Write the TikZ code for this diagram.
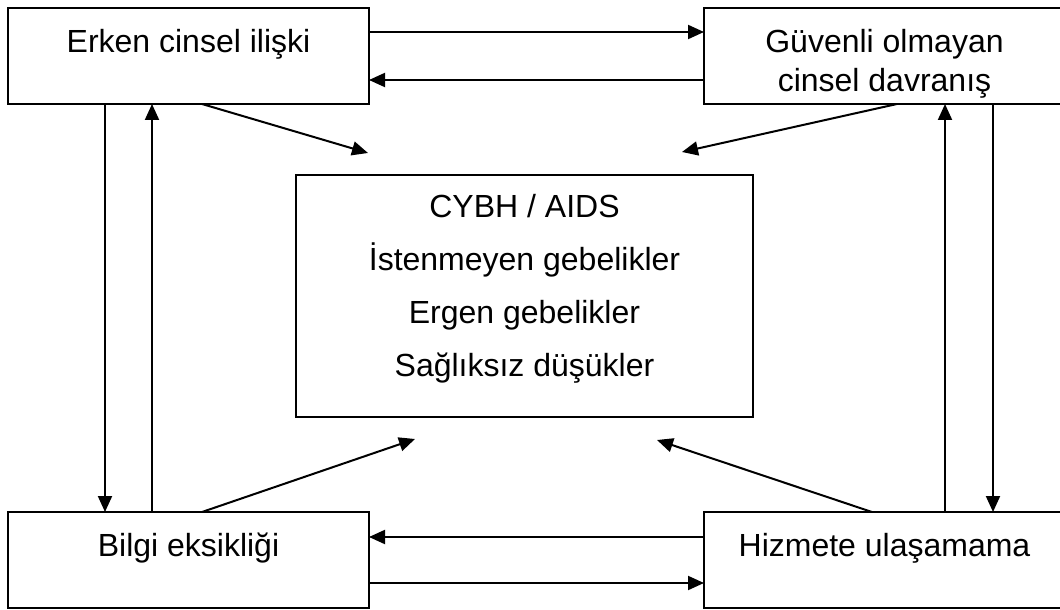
\documentclass[tikz,border=0pt]{standalone}
\usepackage{fontspec}
\setmainfont{Liberation Sans}
\usetikzlibrary{arrows.meta}

\tikzset{
  kutu/.style  = {draw, rectangle, line width=1pt, inner sep=0pt, outer sep=0pt,
                  minimum width=180.5pt, minimum height=48pt},
  yazi/.style  = {anchor=north, inner sep=0pt, align=center, yshift=-10.5pt,
                  font=\fontsize{16}{19.5}\selectfont},
  ok/.style    = {-{Triangle[length=8pt,width=7pt]}, line width=1pt}
}

\begin{document}
\begin{tikzpicture}[x=0.5pt,y=-0.5pt]
\useasboundingbox (0,0) rectangle (1060,610);

% part boxes
\node[kutu, label={[yazi]north:Erken cinsel ilişki}] (erken) at (188.5,56) {};
\node[kutu, label={[yazi]north:Güvenli olmayan\\cinsel davranış}] (guven) at (884.5,56) {};
\node[kutu, label={[yazi]north:Bilgi eksikliği}] (bilgi) at (188.5,560) {};
\node[kutu, label={[yazi]north:Hizmete ulaşamama}] (hizmet) at (884.5,560) {};

% part center
\node[kutu, minimum width=228.5pt, minimum height=121pt,
      label={[yazi, yshift=1pt, font=\fontsize{16}{26.5}\selectfont]north:CYBH / AIDS\\İstenmeyen gebelikler\\Ergen gebelikler\\Sağlıksız düşükler}]
      (sonuc) at (524.5,296) {};

\coordinate (ust1) at (368,153);
\coordinate (ust2) at (682,152);
\coordinate (alt1) at (415,439);
\coordinate (alt2) at (657,440);

% part top
\draw[ok] ([yshift=12pt]erken.east) -- ([yshift=12pt]guven.west);
\draw[ok] ([yshift=-12pt]guven.west) -- ([yshift=-12pt]erken.east);
\draw[ok] ([xshift=6.75pt]erken.south) -- (ust1);
\draw[ok] ([xshift=6.25pt]guven.south) -- (ust2);

% part sides
\draw[ok] ([xshift=-41.75pt]erken.south) -- ([xshift=-41.75pt]bilgi.north);
\draw[ok] ([xshift=-18.25pt]bilgi.north) -- ([xshift=-18.25pt]erken.south);
\draw[ok] ([xshift=30.25pt]hizmet.north) -- ([xshift=30.25pt]guven.south);
\draw[ok] ([xshift=54.25pt]guven.south) -- ([xshift=54.25pt]hizmet.north);

% part bottom
\draw[ok] ([xshift=6.75pt]bilgi.north) -- (alt1);
\draw[ok] ([xshift=-6.25pt]hizmet.north) -- (alt2);
\draw[ok] ([yshift=11.5pt]hizmet.west) -- ([yshift=11.5pt]bilgi.east);
\draw[ok] ([yshift=-11.5pt]bilgi.east) -- ([yshift=-11.5pt]hizmet.west);

\end{tikzpicture}
\end{document}
